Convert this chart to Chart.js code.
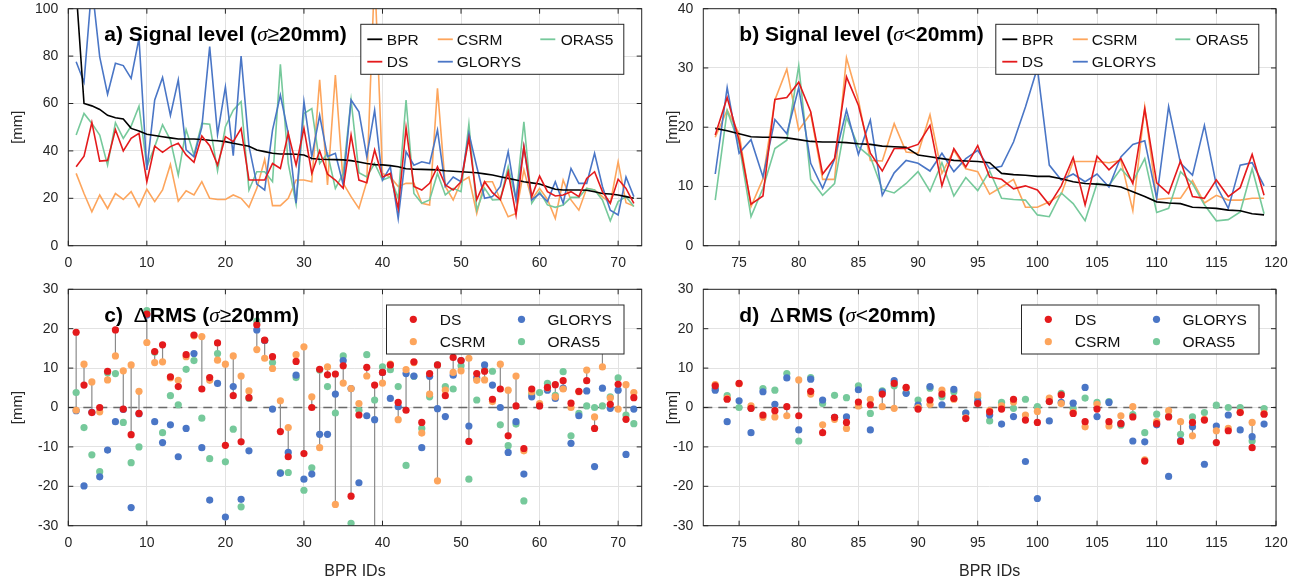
<!DOCTYPE html>
<html lang="en">
<head>
  <meta charset="UTF-8">
  <title>Signal level and ΔRMS per BPR</title>
  <script src="https://cdn.jsdelivr.net/npm/chart.js@4"></script>
  <style>
    body { margin: 0; background: #fff; }
    .wrap { position: relative; width: 1310px; height: 585px; }
    .wrap canvas { position: absolute; left: 0; top: 0; }
  </style>
</head>
<body>
  <div class="wrap">
    <canvas id="panelA" width="1310" height="585"></canvas>
    <canvas id="panelB" width="1310" height="585"></canvas>
    <canvas id="panelC" width="1310" height="585"></canvas>
    <canvas id="panelD" width="1310" height="585"></canvas>
  </div>

  <script>
    // BPR IDs: 1..72 have sigma >= 20 mm, 73..119 have sigma < 20 mm
    const idsStrong = Array.from({ length: 72 }, (_, k) => k + 1);
    const idsWeak = Array.from({ length: 47 }, (_, k) => k + 73);

    const xTicksStrong = [0, 10, 20, 30, 40, 50, 60, 70];
    const xTicksWeak = [75, 80, 85, 90, 95, 100, 105, 110, 115, 120];
    const yTicksLevelStrong = [0, 20, 40, 60, 80, 100];
    const yTicksLevelWeak = [0, 10, 20, 30, 40];
    const yTicksRms = [-30, -20, -10, 0, 10, 20, 30];

    // a) signal level, sigma >= 20mm  [mm]
    const bprStrong = [108, 60, 59, 57.5, 55, 54, 53.5, 49.5, 48.4, 47, 46.5, 46, 45.5, 45, 45, 45, 44.8, 44.5, 44.3, 43.9,
      43.2, 42.6, 42, 40.4, 39.7, 39, 38.7, 38.7, 38.6, 38.3, 36.8, 36.5, 36.4, 36.3, 36.2, 35.9, 35.3, 34.7, 34.2, 34.1,
      33.8, 33.3, 32.5, 32.3, 32.2, 32.1, 32, 31.6, 31.4, 31.2, 31, 30.8, 30.3, 29.8, 29.1, 28.4, 27.7, 27, 26.5, 26,
      24.9, 23.8, 23.5, 23.5, 23.5, 23.4, 22.8, 22, 21.8, 21.4, 20.7, 20];
    const dsStrong = [33.3, 37.8, 52, 35.7, 36, 49, 40, 45.3, 47.4, 27, 42, 39.4, 41.8, 43.2, 38.3, 35.2, 46.3, 42.2, 34, 46,
      43.9, 49.4, 27.7, 27.7, 27.7, 34.7, 32.6, 47.4, 34, 49.5, 30.5, 40, 30.2, 27.7, 24.2, 46.7, 27.7, 26.6, 40.4, 29,
      30.5, 15.7, 49.8, 25, 23.5, 26.3, 33.3, 25.6, 23.5, 27, 45.3, 19.5, 27, 22.4, 19.5, 31.2, 13, 41.8, 20.7, 29.4,
      22.8, 21, 21.4, 22.8, 20.7, 28.4, 31.2, 22.8, 17.9, 28, 24.2, 17.9];
    const csrmStrong = [30.5, 22, 14.3, 21.4, 15.7, 22, 19.5, 22.8, 16.5, 23.8, 18.6, 23.5, 34.3, 18.8, 23.2, 21.4, 27, 20, 19.5, 19.5,
      21.4, 20, 16.2, 24.2, 36.4, 16.9, 16.9, 20, 27.7, 27.7, 27, 70, 25.6, 72, 26.3, 20.7, 15.7, 27, 115, 30.5,
      29, 25, 26.3, 26.3, 17.9, 17.2, 66.4, 25, 19.3, 27, 29, 13.6, 27, 27, 19.5, 12.2, 13.6, 32, 19.5, 24.2,
      19.5, 11.5, 27.7, 19.3, 15, 24.2, 23.5, 20.7, 17.9, 35.4, 18.1, 16.7];
    const glorysStrong = [77.6, 69, 110, 79.7, 63.9, 77, 76, 70.6, 87.5, 32, 61.5, 71, 55, 70, 40.4, 37.5, 50, 84, 47, 67,
      38, 80, 42, 26, 23.5, 48.8, 63.6, 47.4, 17.9, 60.8, 37.6, 55, 37.6, 39, 25.6, 61.5, 56.5, 37.6, 57.2, 27.7,
      33.3, 11.5, 39.7, 34, 35.4, 34.7, 48.8, 25, 29, 27, 47.4, 33.3, 20, 20.7, 25, 39.7, 19.3, 41.8, 19.3, 22,
      18.6, 27, 17.9, 32.6, 26.3, 26.3, 39, 25, 15, 13, 29, 20.7];
    const oras5Strong = [46.7, 55.8, 51.6, 46.7, 34, 51.9, 45.3, 50.5, 58.9, 33.3, 41.8, 51, 44.6, 29.8, 49, 38.3, 51.6, 51.3, 31.6, 50.2,
      57.2, 60.8, 23.5, 31.2, 31.2, 27, 76.5, 34.7, 17.6, 55.8, 57.9, 34.7, 39, 24.2, 30.5, 61.5, 30.8, 29, 34.7, 27.7,
      29, 20, 61.5, 22, 17.9, 19.3, 30.5, 21.4, 24.2, 22.8, 51.3, 15, 24.2, 19.3, 19.5, 33.3, 19.5, 52.3, 17.9, 22.8,
      17.2, 16.2, 17.2, 20.4, 20.4, 24.2, 23.5, 19.3, 10.5, 18.6, 20.7, 16.5];

    // b) signal level, sigma < 20mm  [mm]
    const bprWeak = [19.8, 19.4, 18.9, 18.4, 18.3, 18.3, 18.2, 17.9, 17.6, 17.5, 17.5, 17.4, 17.2, 17.1, 16.8, 16.7, 16.6, 15.3, 15, 14.7,
      14.4, 14.3, 14.2, 14, 12.2, 12, 11.9, 11.7, 11.7, 11.3, 10.8, 10.5, 10.4, 10.2, 9.9, 9.1, 8.3, 7.4, 7.2, 7.1,
      6.5, 6.4, 6.3, 6, 5.9, 5.4, 5.2];
    const dsWeak = [18.7, 25, 17.8, 7, 8.4, 24.7, 25, 27.6, 22.6, 12.1, 14.7, 28.5, 23.7, 15.6, 12.6, 16.4, 16.4, 17.1, 20.3, 10.1,
      16.4, 13.3, 16.9, 11.6, 11.2, 9.6, 10.1, 9.4, 6.9, 10.1, 14.9, 6.9, 15.1, 12.8, 14.7, 10.5, 23.1, 10.6, 8.8, 14.3,
      8.3, 8, 11.1, 8.3, 9.8, 15.4, 8.5];
    const csrmWeak = [18.3, 22.9, 18.9, 6.6, 11.3, 24.6, 29.8, 19.5, 22.3, 11.2, 11.2, 31.7, 24.6, 14.4, 14.3, 20.6, 15.8, 15.6, 22.1, 12.2,
      16.1, 13, 12.5, 8.7, 9.9, 11.2, 6.5, 6.5, 7.4, 8.7, 14.2, 14.2, 14.2, 14, 14.4, 5.9, 23.4, 7.8, 8, 8,
      11, 7.2, 8.5, 7.7, 7.7, 8, 8];
    const glorysWeak = [12.1, 26.7, 15.6, 17.9, 11.6, 21.3, 18.9, 26.7, 13.9, 9.7, 14.6, 22.9, 15.4, 21.2, 8.5, 12.3, 14.4, 13.9, 12.6, 15.6,
      12.5, 14.7, 16.1, 13, 13.4, 17.5, 23.4, 30, 13.6, 11.1, 12.1, 10.8, 12.1, 9.9, 15, 17.1, 17.7, 8, 23.5, 13.9,
      11.9, 20.3, 10.2, 6.3, 13.6, 14, 10.1];
    const oras5Weak = [7.7, 22.8, 17.2, 4.9, 9.7, 16.4, 17.8, 30.4, 11.2, 8.5, 10.5, 21.7, 16.7, 15, 9.5, 8.9, 10.5, 12.5, 9.2, 14,
      8.4, 11.5, 9.3, 12.6, 8, 7.8, 7.7, 5.2, 4.9, 8.9, 7.1, 4.2, 10.5, 10.2, 13, 10.8, 14.7, 5.6, 6.3, 12.5,
      10.5, 6.9, 4.2, 4.4, 5.7, 13, 5.4];

    // c) delta RMS, sigma >= 20mm  [mm]
    const dRmsDsStrong = [19.1, 5.7, -1.3, 0, 9.2, 19.7, -0.4, -6.9, -1.5, 23.7, 14.2, 15.9, 7.8, 5.3, 13.4, 18.4, 4.7, 7.6, 16.4, -9.6,
      3, -8.7, 2.5, 21, 17.1, 12.9, -6.1, -12.5, 11.7, -11.7, 0, 9.7, 8.3, 8.5, 10.6, -22.5, -1.9, 10.2, 5.7, 8.9,
      10.8, 1.3, -0.7, 11.6, -3.8, 8.6, 10.8, 3, 12.7, 11.9, -8.6, 8.6, 9.2, 2.1, 4.7, -7.2, 0.4, -10.4, 4.7, 0.4,
      5.1, 5.8, 6.8, 1.1, 4.1, 6.8, -5.3, 16, 0.8, 5.9, -3, 2.5];
    const dRmsCsrmStrong = [-0.7, 11, 6.5, -1.1, 7, 13.1, 9.3, 10.8, 4.1, 16.5, 11.4, 11.6, 7.5, 6.9, 12.9, 18.2, 18, 6.9, 12, 11,
      13.1, 8, 4.2, 14.7, 12.5, 9.9, 1.7, -5.1, 13.4, 15.4, 2.7, -10.2, 10.3, -24.6, 6.2, 4.8, 1, 8, -35, 6.2,
      11, -3.1, 9.6, 11.4, -6.5, 3.4, -18.6, 4.4, 8.9, 9.3, 12.5, 6.9, 7, 1.5, 11, 4.4, 8, -11, 4, 1,
      5, 2.7, 4.7, 0, 4, 9.5, -2.4, 10.3, 2.4, -0.4, 5.8, 3.8];
    const dRmsGlorysStrong = [-0.8, -19.9, -1.2, -17.6, -10.8, -3.6, -0.5, -25.4, -1.6, 23.5, -3.6, -8.9, -4.4, -12.5, -5.3, 13.7, -10.2, -23.5, 6.1, -27.8,
      5.3, -23.3, -11, 19.7, 17, -0.4, -16.7, -11.4, 8.2, -18.2, -16.9, -6.8, -6.8, 3.4, 11.9, 4.8, -19.1, -2.1, -3.1, 8.9,
      2.3, 0.2, 8.6, 8, -10.2, 7.9, -0.3, -2.3, 8.2, 11.9, -4.7, 7.5, 10.8, 5.7, 0, -11.4, -3.6, -16.9, 2.7, 0.5,
      4.4, 2.3, 4.9, -9.1, -2.1, 4.2, -15, 4.9, -0.2, 4.4, -11.9, -0.4];
    const dRmsOras5Strong = [3.8, -5.1, -12, -16.3, 8.8, 8.6, -3.8, -14, -10, 24.6, 14, -6.4, 3, 0.7, 9.7, 11.9, -2.7, -13, 13.7, -13.8,
      -5.5, -25.2, 2.3, 21.9, 17, 11.4, -16.5, -16.5, 7.6, -21, -15.3, 9.5, 5.3, -1.4, 13.1, -29.4, -0.7, 13.4, 1.9, 10.3,
      9.6, 5.3, -14.7, 7.9, -5.3, 2.7, 10.8, 5.3, 4.7, 10.6, -18.2, 1.9, 9.5, 9.2, -4.4, -9.7, -4.2, -23.7, 3.4, 3.8,
      6.1, 3.1, 9.1, -7.2, -1.5, 0.4, 0, 0.4, 2.7, 7.5, -1.9, -4.1];

    // d) delta RMS, sigma < 20mm  [mm]
    const dRmsDsWeak = [5.5, 2.1, 6.1, -0.2, -1.9, -0.8, 0.2, -2.1, 4.1, -6.4, -2.5, -3.8, 1.4, 0.7, 3.4, 6.1, 5.1, -0.4, 1.9, 3.4,
      2.3, -2.8, 1, -1.1, -0.4, 2.1, -3.2, -3.8, 1.5, 3.2, -1.5, -3.6, -0.4, -3.6, -4.1, -2.4, -13.6, -4.1, -2.4, -8.6,
      -3.8, -3.2, -8.9, -5.9, -1.3, -10.2, -1.7];
    const dRmsCsrmWeak = [5.8, 2.3, 6, 0.4, -2.5, -2.4, -2.1, 7, 3.4, -4.4, -3, -5.3, 0.4, 2.1, 0.2, -0.2, 5, 0, 0.8, 4.4,
      2.1, -2.6, 3.2, -0.8, 0.4, 1.4, -1.9, -1, 2.4, 1, -1.2, -4.9, 0.8, -4.7, -2.1, 0.2, -13.3, -3.6, -0.8, -3.6,
      -7.2, -3, -5.9, -5.3, -1.2, -3.8, -1.5];
    const dRmsGlorysWeak = [4.4, -3.6, 1.7, -6.4, 4, 0.8, 7.5, -5.7, 7.2, 1.9, -2.5, -2.4, 4.5, -5.7, 4, 6.8, 3.6, 0.6, 5.3, 0.7,
      4.6, -1.4, 1.5, -1.9, -4.2, -2.3, -13.7, -23.1, -3.4, 1.3, 1.1, 5.1, -2.3, 1.3, -4.1, -8.5, -8.7, -4.4, -17.5, -8.4,
      -4.9, -14.4, -4.7, -1.9, -5.7, -7.4, -4.2];
    const dRmsOras5Weak = [4.9, 3, 0, -0.2, 4.8, 4.4, 8.6, -8.5, 7.6, 1, 3.1, 2.5, 5.5, -1.5, 4.2, 5.5, 3.8, 1.9, 4.9, 2.7,
      4, -1.4, 2.5, -3.4, 1.3, -0.2, 2.1, 0.2, 1.6, 3.6, -0.2, 2.4, 1.3, 1.5, -4.5, -1.8, -6.4, -1.7, -2.2, -6.8,
      -2.4, -1.3, 0.6, 0, 0, -8.5, -0.3];

    // ---------- styling ----------
    const INK = '#262626';
    const GRID = '#e2e2e2';
    const COLORS = { BPR: '#000000', DS: '#e41a1c', CSRM: '#fda55c', GLORYS: '#4a76c6', ORAS5: '#76c99b' };
    Chart.defaults.font.family = '"Liberation Sans", Arial, sans-serif';
    Chart.defaults.color = INK;

    // chart areas of the four panels (pixels in the 1310x585 page)
    const boxes = {
      a: { left: 68.3, top: 8.7, right: 641.7, bottom: 245.7, axisLeft: 0 },
      b: { left: 703.3, top: 8.7, right: 1276, bottom: 245.7, axisLeft: 655 },
      c: { left: 68.3, top: 289.3, right: 641.7, bottom: 525.7, axisLeft: 0 },
      d: { left: 703.3, top: 289.3, right: 1276, bottom: 525.7, axisLeft: 655 }
    };

    const lineLegend = {
      kind: 'line', x: 292.5, y: 15.6, w: 263, h: 50, rows: [15, 37.4],
      marks: [6.5, 77, 179.5], texts: [26, 96, 200],
      items: [[0, 0, 0], [1, 0, 1], [2, 1, 0], [3, 1, 1], [4, 2, 0]] // [dataset, col, row]
    };
    const dotLegend = {
      kind: 'dot', x: 318.2, y: 15.7, w: 237.5, h: 49, rows: [14.3, 36.7],
      marks: [26.8, 135], texts: [53.3, 161],
      items: [[0, 0, 0], [1, 0, 1], [2, 1, 0], [3, 1, 1]]
    };

    function pts(ids, vals) {
      return ids.map((id, k) => ({ x: id, y: vals[k] }));
    }

    // vertical segments DS <-> CSRM, broken by null points
    function stems(ids, a, b) {
      const out = [];
      ids.forEach((id, k) => {
        out.push({ x: id, y: a[k] }, { x: id, y: b[k] }, { x: id, y: null });
      });
      return out;
    }

    function lineSet(label, ids, vals, order) {
      return { label, data: pts(ids, vals), borderColor: COLORS[label], borderWidth: 1.6,
        pointRadius: 0, tension: 0, order };
    }

    function dotSet(label, ids, vals, order) {
      return { label, data: pts(ids, vals), showLine: false, pointRadius: 3.6, pointBorderWidth: 0,
        pointBackgroundColor: COLORS[label], borderColor: COLORS[label], order };
    }

    // title made of pieces: [text, style] or a number = extra gap in px
    function drawRich(ctx, x, y, parts, size) {
      const fonts = {
        b: 'bold ' + size + 'px "Liberation Sans"',
        n: size + 'px "Liberation Sans"',
        i: 'italic ' + size + 'px "Liberation Serif"'
      };
      ctx.textBaseline = 'alphabetic';
      ctx.textAlign = 'left';
      parts.forEach(p => {
        if (typeof p === 'number') { x += p; return; }
        ctx.font = fonts[p[1]];
        ctx.fillText(p[0], x, y);
        x += ctx.measureText(p[0]).width;
      });
    }

    const panelDecor = {
      id: 'panelDecor',
      beforeDatasetsDraw(chart, args, opts) {
        if (!opts.zeroLine) return;
        const { ctx, chartArea: a } = chart;
        const py = chart.scales.y.getPixelForValue(0);
        ctx.save();
        ctx.strokeStyle = '#6a6a6a';
        ctx.lineWidth = 1.5;
        ctx.setLineDash([9, 6]);
        ctx.beginPath();
        ctx.moveTo(a.left, py);
        ctx.lineTo(a.right, py);
        ctx.stroke();
        ctx.restore();
      },
      afterDraw(chart, args, opts) {
        const { ctx, chartArea: a, scales } = chart;
        ctx.save();
        // axes box with inward ticks
        ctx.strokeStyle = INK;
        ctx.lineWidth = 1;
        ctx.strokeRect(a.left, a.top, a.right - a.left, a.bottom - a.top);
        ctx.beginPath();
        scales.x.ticks.forEach(t => {
          const px = scales.x.getPixelForValue(t.value);
          ctx.moveTo(px, a.bottom); ctx.lineTo(px, a.bottom - 5);
          ctx.moveTo(px, a.top); ctx.lineTo(px, a.top + 5);
        });
        scales.y.ticks.forEach(t => {
          const py = scales.y.getPixelForValue(t.value);
          ctx.moveTo(a.left, py); ctx.lineTo(a.left + 5, py);
          ctx.moveTo(a.right, py); ctx.lineTo(a.right - 5, py);
        });
        ctx.stroke();

        // panel title
        ctx.fillStyle = '#000';
        drawRich(ctx, a.left + 36, a.top + 32.5, opts.title, 21);

        // boxed legend
        const lg = opts.legend;
        const x0 = a.left + lg.x, y0 = a.top + lg.y;
        ctx.fillStyle = '#fff';
        ctx.fillRect(x0, y0, lg.w, lg.h);
        ctx.strokeStyle = INK;
        ctx.strokeRect(x0, y0, lg.w, lg.h);
        ctx.font = '15.5px "Liberation Sans"';
        ctx.textBaseline = 'middle';
        lg.items.forEach(([di, col, row]) => {
          const ds = chart.data.datasets[di];
          const cy = y0 + lg.rows[row];
          const mx = x0 + lg.marks[col];
          if (lg.kind === 'line') {
            ctx.strokeStyle = ds.borderColor;
            ctx.lineWidth = 1.8;
            ctx.beginPath();
            ctx.moveTo(mx, cy);
            ctx.lineTo(mx + 15, cy);
            ctx.stroke();
          } else {
            ctx.fillStyle = ds.pointBackgroundColor;
            ctx.beginPath();
            ctx.arc(mx, cy, 3.6, 0, Math.PI * 2);
            ctx.fill();
          }
          ctx.fillStyle = '#111';
          ctx.fillText(ds.label, x0 + lg.texts[col], cy + 1);
        });
        ctx.restore();
      }
    };

    function buildPanel(canvasId, box, xH, xCfg, yCfg, datasets, decor) {
      return new Chart(document.getElementById(canvasId), {
        type: 'line',
        data: { datasets },
        options: {
          responsive: false,
          animation: false,
          devicePixelRatio: 1,
          events: [],
          layout: {
            padding: { left: box.axisLeft, top: box.top, right: 1310 - box.right, bottom: 585 - box.bottom - xH }
          },
          scales: {
            x: {
              type: 'linear', min: xCfg.min, max: xCfg.max,
              afterBuildTicks: s => { s.ticks = xCfg.ticks.map(v => ({ value: v })); },
              afterFit: s => { s.height = xH; s.paddingLeft = 0; s.paddingRight = 0; },
              grid: { color: GRID, drawTicks: false },
              border: { display: false },
              ticks: { padding: 9, color: INK, font: { size: 14 }, maxRotation: 0, autoSkip: false },
              title: { display: !!xCfg.title, text: xCfg.title || '', padding: 0, color: INK, font: { size: 16 } }
            },
            y: {
              min: yCfg.min, max: yCfg.max,
              afterBuildTicks: s => { s.ticks = yCfg.ticks.map(v => ({ value: v })); },
              afterFit: s => { s.width = box.left - box.axisLeft; s.paddingTop = 0; s.paddingBottom = 0; },
              grid: { color: GRID, drawTicks: false },
              border: { display: false },
              ticks: { padding: 10, color: INK, font: { size: 14 }, autoSkip: false },
              title: { display: true, text: '[mm]', padding: { top: 9 }, color: INK, font: { size: 15 } }
            }
          },
          plugins: { legend: { display: false }, tooltip: { enabled: false }, panelDecor: decor }
        },
        plugins: [panelDecor]
      });
    }

    window.onload = () => {
      // a) signal level, strong
      buildPanel('panelA', boxes.a, 30,
        { min: 0, max: 73, ticks: xTicksStrong },
        { min: 0, max: 100, ticks: yTicksLevelStrong },
        [
          lineSet('BPR', idsStrong, bprStrong, 1),
          lineSet('DS', idsStrong, dsStrong, 0),
          lineSet('CSRM', idsStrong, csrmStrong, 4),
          lineSet('GLORYS', idsStrong, glorysStrong, 2),
          lineSet('ORAS5', idsStrong, oras5Strong, 3)
        ],
        { title: [['a) Signal level (', 'b'], ['σ', 'i'], ['≥', 'n'], ['20mm)', 'b']], legend: lineLegend });

      // b) signal level, weak
      buildPanel('panelB', boxes.b, 30,
        { min: 72, max: 120, ticks: xTicksWeak },
        { min: 0, max: 40, ticks: yTicksLevelWeak },
        [
          lineSet('BPR', idsWeak, bprWeak, 1),
          lineSet('DS', idsWeak, dsWeak, 0),
          lineSet('CSRM', idsWeak, csrmWeak, 4),
          lineSet('GLORYS', idsWeak, glorysWeak, 2),
          lineSet('ORAS5', idsWeak, oras5Weak, 3)
        ],
        { title: [['b) Signal level (', 'b'], ['σ', 'i'], ['<', 'n'], ['20mm)', 'b']], legend: lineLegend });

      // c) delta RMS, strong
      buildPanel('panelC', boxes.c, 55,
        { min: 0, max: 73, ticks: xTicksStrong, title: 'BPR IDs' },
        { min: -30, max: 30, ticks: yTicksRms },
        [
          dotSet('DS', idsStrong, dRmsDsStrong, 0),
          dotSet('CSRM', idsStrong, dRmsCsrmStrong, 1),
          dotSet('GLORYS', idsStrong, dRmsGlorysStrong, 2),
          dotSet('ORAS5', idsStrong, dRmsOras5Strong, 3),
          { label: 'link', data: stems(idsStrong, dRmsDsStrong, dRmsCsrmStrong), borderColor: '#8a8a8a',
            borderWidth: 1.2, pointRadius: 0, spanGaps: false, order: 5 }
        ],
        { title: [['c) ', 'b'], 5, ['Δ', 'n'], 2, ['RMS (', 'b'], ['σ', 'i'], ['≥', 'n'], ['20mm)', 'b']],
          legend: dotLegend, zeroLine: true });

      // d) delta RMS, weak
      buildPanel('panelD', boxes.d, 55,
        { min: 72, max: 120, ticks: xTicksWeak, title: 'BPR IDs' },
        { min: -30, max: 30, ticks: yTicksRms },
        [
          dotSet('DS', idsWeak, dRmsDsWeak, 0),
          dotSet('CSRM', idsWeak, dRmsCsrmWeak, 1),
          dotSet('GLORYS', idsWeak, dRmsGlorysWeak, 2),
          dotSet('ORAS5', idsWeak, dRmsOras5Weak, 3),
          { label: 'link', data: stems(idsWeak, dRmsDsWeak, dRmsCsrmWeak), borderColor: '#8a8a8a',
            borderWidth: 1.2, pointRadius: 0, spanGaps: false, order: 5 }
        ],
        { title: [['d) ', 'b'], 5, ['Δ', 'n'], 2, ['RMS (', 'b'], ['σ', 'i'], ['<', 'n'], ['20mm)', 'b']],
          legend: dotLegend, zeroLine: true });
    };
  </script>
</body>
</html>
